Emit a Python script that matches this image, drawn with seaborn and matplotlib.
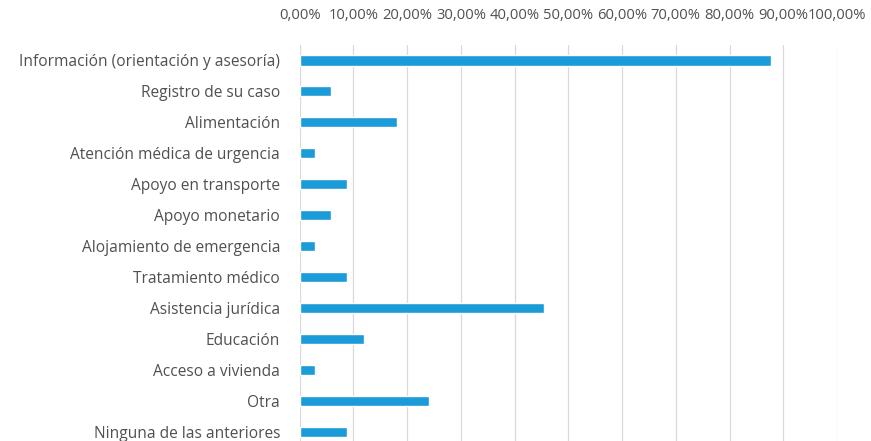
import pandas as pd
import seaborn as sns
import matplotlib.pyplot as plt
import numpy as np

categorias = [
    "Información (orientación y asesoría)",
    "Registro de su caso",
    "Alimentación",
    "Atención médica de urgencia",
    "Apoyo en transporte",
    "Apoyo monetario",
    "Alojamiento de emergencia",
    "Tratamiento médico",
    "Asistencia jurídica",
    "Educación",
    "Acceso a vivienda",
    "Otra",
    "Ninguna de las anteriores",
]
porcentajes = [87.7, 5.9, 18.1, 2.8, 8.9, 5.9, 2.8, 8.9, 45.4, 11.9, 2.8, 24.0, 8.9]
ticks = np.arange(0, 101, 10)

df = pd.DataFrame({"categoria": categorias, "pct": porcentajes})

sns.set_style("white")
plt.rcParams['font.family'] = ['Open Sans', 'DejaVu Sans']

fig = plt.figure(figsize=(8.71, 4.41), dpi=100)
ax = fig.add_axes([0.344, -0.014, 0.617, 0.912])

sns.barplot(data=df, x="pct", y="categoria", color="#1b9bd7", width=0.33,
            saturation=1, ax=ax)

ax.set_xlim(0, 100)
ax.set_ylim(12.5, -0.5)
ax.set_xticks(ticks)
ax.set_xticklabels([f"{t:.2f}%".replace(".", ",") for t in ticks])
ax.xaxis.tick_top()
ax.grid(axis="x", color="#d9d9d9", linewidth=0.9)
ax.set_axisbelow(True)
for s in ax.spines.values():
    s.set_visible(False)
ax.tick_params(axis="both", length=0, labelcolor="#505050")
ax.tick_params(axis="y", labelsize=11.2, pad=14)
ax.tick_params(axis="x", labelsize=10.6, pad=16)
ax.set_xlabel("")
ax.set_ylabel("")

plt.savefig("out.png", dpi=100)
plt.close()
